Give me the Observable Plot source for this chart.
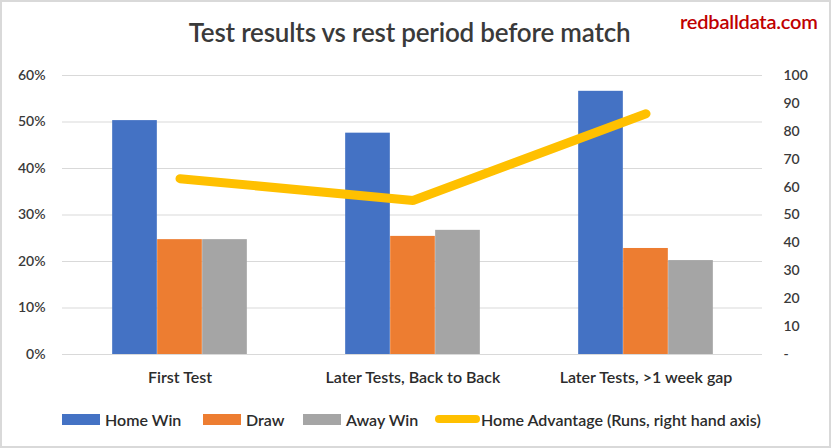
<!DOCTYPE html>
<html>
<head>
<meta charset="utf-8">
<script src="https://cdn.jsdelivr.net/npm/d3@7"></script>
<script src="https://cdn.jsdelivr.net/npm/@observablehq/plot@0.6"></script>
<style>
  html, body { margin: 0; padding: 0; background: #fff; }
  #chart { position: relative; width: 831px; height: 448px; overflow: hidden; font-family: Lato, "Open Sans", sans-serif; font-weight: 600; }
  #chart svg { position: absolute; left: 0; top: 0; }
  #frame { position: absolute; left: 0; top: 0; width: 831px; height: 448px; box-sizing: border-box; border: 2px solid #d9d9d9; pointer-events: none; }
  #title { position: absolute; left: -6px; width: 831px; top: 16px; text-align: center; font-size: 26px; color: #3a3a3a; letter-spacing: -0.2px; }
  #logo { position: absolute; left: 680px; top: 9px; font-size: 20px; color: #c00000; letter-spacing: -0.2px; }
  #legend { position: absolute; left: 0; top: 407px; width: 831px; height: 24px; font-size: 16px; color: #2b2b2b; white-space: nowrap; }
  .item { position: absolute; top: 0; display: flex; align-items: center; height: 24px; }
  .sw { width: 38px; height: 11px; margin-right: 5px; }
  .ln { width: 45px; height: 8px; border-radius: 4px; margin-right: 1px; }
</style>
</head>
<body>
<div id="chart">
  <div id="title"></div>
  <div id="logo"></div>
  <div id="legend"></div>
  <div id="frame"></div>
</div>
<script>
const titleText = "Test results vs rest period before match";
const logoText = "redballdata.com";
const categories = ["First Test", "Later Tests, Back to Back", "Later Tests, >1 week gap"];
const seriesNames = ["Home Win", "Draw", "Away Win"];
const homeWin = [0.503, 0.476, 0.566];
const draw = [0.247, 0.254, 0.228];
const awayWin = [0.247, 0.267, 0.202];
const lineName = "Home Advantage (Runs, right hand axis)";
const homeAdvantage = [63, 55.2, 86.3];
const leftTicks = [0, 0.1, 0.2, 0.3, 0.4, 0.5, 0.6];
const rightTicks = [0, 10, 20, 30, 40, 50, 60, 70, 80, 90, 100];
const barColors = ["#4472C4", "#ED7D31", "#A5A5A5"];
const lineColor = "#FFC000";

const rightMax = 100, leftMax = 0.6;
const toLeft = r => r / rightMax * leftMax;

const seriesValues = [homeWin, draw, awayWin];
const bars = [];
seriesValues.forEach((vals, j) => vals.forEach((v, i) => bars.push({category: categories[i], series: seriesNames[j], j, value: v})));
const lineData = categories.map((c, i) => ({category: c, runs: homeAdvantage[i]}));

const W = 831, H = 448;
const mL = 62, mR = 69, mT = 75, mB = 94;
const bandW = (W - mL - mR) / categories.length;
const barW = 45;
const groupOff = (bandW - barW * 3) / 2;

const marks = [
  Plot.gridY(leftTicks, {stroke: "#d9d9d9", strokeOpacity: 1, strokeWidth: 1.2}),
];
seriesNames.forEach((s, j) => {
  marks.push(Plot.barY(bars.filter(d => d.j === j), {
    x: "category", y: "value", fill: barColors[j],
    insetLeft: groupOff + j * barW, insetRight: bandW - groupOff - (j + 1) * barW
  }));
});
marks.push(
  Plot.line(lineData, {x: "category", y: d => toLeft(d.runs), stroke: lineColor, strokeWidth: 9, strokeLinecap: "round", strokeLinejoin: "miter"}),
  Plot.axisY(leftTicks, {anchor: "left", tickSize: 0, tickPadding: 17, tickFormat: d3.format(".0%"), fontSize: 14, fill: "#3a3a3a", label: null}),
  Plot.axisY(rightTicks.map(toLeft), {anchor: "right", tickSize: 0, tickPadding: 21, tickFormat: d => { const r = Math.round(d / leftMax * rightMax); return r === 0 ? "-" : String(r); }, fontSize: 14, fill: "#3a3a3a", label: null}),
  Plot.axisX({tickSize: 0, tickPadding: 17, fontSize: 16, fill: "#2b2b2b", label: null})
);

const plot = Plot.plot({
  width: W, height: H,
  marginLeft: mL, marginRight: mR, marginTop: mT, marginBottom: mB,
  style: {fontFamily: "Lato, 'Open Sans', sans-serif", fontWeight: 600, background: "transparent", overflow: "visible"},
  x: {type: "band", domain: categories, padding: 0},
  y: {domain: [0, leftMax]},
  marks
});
document.getElementById("chart").insertBefore(plot, document.getElementById("title"));
document.getElementById("title").textContent = titleText;
document.getElementById("logo").textContent = logoText;

const legend = document.getElementById("legend");
const legendLeft = [62, 203, 303, 435];
seriesNames.forEach((s, j) => {
  const it = document.createElement("div"); it.className = "item"; it.style.left = legendLeft[j] + "px";
  const sw = document.createElement("div"); sw.className = "sw"; sw.style.background = barColors[j];
  const t = document.createElement("span"); t.textContent = s;
  it.append(sw, t); legend.append(it);
});
{
  const it = document.createElement("div"); it.className = "item"; it.style.left = legendLeft[3] + "px";
  const ln = document.createElement("div"); ln.className = "ln"; ln.style.background = lineColor;
  const t = document.createElement("span"); t.textContent = lineName;
  it.append(ln, t); legend.append(it);
}
</script>
</body>
</html>
